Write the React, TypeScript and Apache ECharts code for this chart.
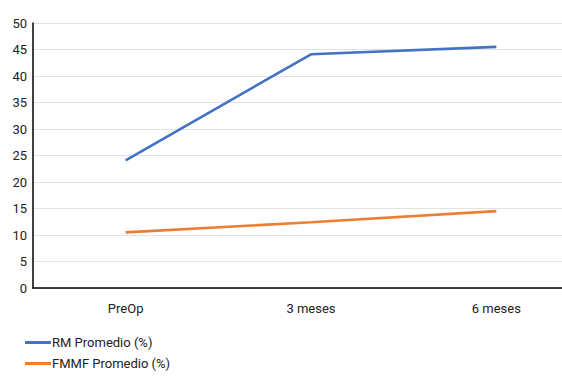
import React, { useEffect, useRef } from "react";
import * as echarts from "echarts";

const categories = ["PreOp", "3 meses", "6 meses"];
const rmValues = [24.1, 44.1, 45.5];
const fmmfValues = [10.5, 12.4, 14.5];
const seriesNames = ["RM Promedio (%)", "FMMF Promedio (%)"];

export default function App() {
  const ref = useRef<HTMLDivElement>(null);
  useEffect(() => {
    document.body.style.margin = "0";
    const chart = echarts.init(ref.current!, null, { renderer: "svg" });
    chart.setOption({
      animation: false,
      textStyle: { fontFamily: "Roboto" },
      grid: { left: 33, right: 11, top: 23, bottom: 88, containLabel: false },
      legend: {
        orient: "vertical",
        left: 20,
        top: 331,
        icon: "rect",
        itemWidth: 26,
        itemHeight: 3,
        itemGap: 8,
        textStyle: { fontSize: 13, color: "#222", fontFamily: "Roboto", padding: [0, 0, 0, -4] },
        data: seriesNames,
      },
      xAxis: {
        type: "category",
        data: categories,
        boundaryGap: true,
        axisLine: { lineStyle: { color: "#000", width: 1.5 } },
        axisTick: { show: false },
        axisLabel: { color: "#222", fontSize: 13, margin: 14 },
      },
      yAxis: {
        type: "value",
        min: 0,
        max: 50,
        interval: 5,
        axisLine: { show: true, lineStyle: { color: "#000", width: 1.5 } },
        axisTick: { show: false },
        axisLabel: { color: "#222", fontSize: 13, margin: 6 },
        splitLine: { lineStyle: { color: "#e2e2e2", width: 1 } },
      },
      series: [
        {
          name: seriesNames[0],
          type: "line",
          data: rmValues,
          showSymbol: false,
          symbol: "none",
          lineStyle: { color: "#4472C4", width: 2.6 },
          itemStyle: { color: "#4472C4" },
        },
        {
          name: seriesNames[1],
          type: "line",
          data: fmmfValues,
          showSymbol: false,
          symbol: "none",
          lineStyle: { color: "#ED7D31", width: 2.6 },
          itemStyle: { color: "#ED7D31" },
        },
      ],
    });
    return () => chart.dispose();
  }, []);
  return (
    <div style={{ width: 562, height: 376, overflow: "hidden" }}>
      <div ref={ref} style={{ width: 600, height: 376 }} />
    </div>
  );
}
